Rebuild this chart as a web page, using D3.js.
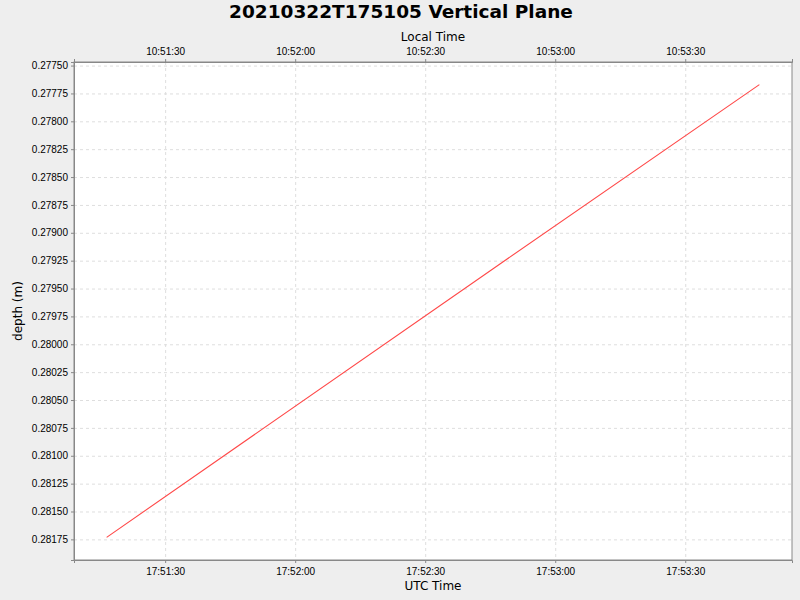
<!DOCTYPE html>
<html>
<head>
<meta charset="utf-8">
<script src="https://cdn.jsdelivr.net/npm/d3@7"></script>
<style>
  body { margin: 0; background: #eeeeee; }
  svg { display: block; font-family: "DejaVu Sans", sans-serif; }
  .axis path, .axis line { stroke: #888888; }
  .axis text { fill: #000; font-size: 10px; }
  .grid line { stroke: #dedede; stroke-dasharray: 3,3; }
  .grid path { display: none; }
</style>
</head>
<body>
<script>
// samples (UTC time, depth in m)
var utcTimes = ["2021-03-22T17:51:16.5Z", "2021-03-22T17:52:46Z", "2021-03-22T17:53:47.1Z"];
var depths = [0.281732, 0.279313, 0.277671];
var depthTicks = [0.27750, 0.27775, 0.27800, 0.27825, 0.27850, 0.27875, 0.27900, 0.27925, 0.27950,
                  0.27975, 0.28000, 0.28025, 0.28050, 0.28075, 0.28100, 0.28125, 0.28150, 0.28175];
var localOffsetHours = -7;

var margin = {top: 62, right: 8, bottom: 40, left: 74},
    width = 800 - margin.left - margin.right,
    height = 600 - margin.top - margin.bottom;

var data = utcTimes.map(function(t, i) {
  return {t: new Date(t), depth: depths[i]};
});

var svg = d3.select("body").append("svg")
  .attr("width", 800)
  .attr("height", 600);

// title
svg.append("text")
  .attr("x", 401)
  .attr("y", 18)
  .attr("text-anchor", "middle")
  .style("font-size", "18.5px")
  .style("font-weight", "bold")
  .text("20210322T175105 Vertical Plane");

var g = svg.append("g")
  .attr("transform", "translate(" + margin.left + "," + margin.top + ")");

// 5% margin on each side like the original plot
var tExt = d3.extent(data, function(d) { return d.t; });
var tPad = (tExt[1] - tExt[0]) * 0.05;
var x = d3.scaleUtc()
  .domain([new Date(+tExt[0] - tPad), new Date(+tExt[1] + tPad)])
  .range([0, width]);

var xLocal = x.copy().domain(x.domain().map(function(d) {
  return new Date(+d + localOffsetHours * 3600 * 1000);
}));

var dExt = d3.extent(data, function(d) { return d.depth; });
var dPad = (dExt[1] - dExt[0]) * 0.05;
var y = d3.scaleLinear()
  .domain([dExt[0] - dPad, dExt[1] + dPad])
  .range([0, height]);

var fmt = d3.utcFormat("%H:%M:%S");

g.append("rect")
  .attr("width", width)
  .attr("height", height)
  .attr("fill", "#ffffff");

// grid
g.append("g")
  .attr("class", "grid")
  .call(d3.axisBottom(x).ticks(d3.utcSecond.every(30)).tickSize(height).tickFormat(""));
g.append("g")
  .attr("class", "grid")
  .call(d3.axisLeft(y).tickValues(depthTicks).tickSize(-width).tickFormat(""));

// line
var line = d3.line()
  .x(function(d) { return x(d.t); })
  .y(function(d) { return y(d.depth); });

g.append("path")
  .datum(data)
  .attr("fill", "none")
  .attr("stroke", "#ff4848")
  .attr("stroke-width", 1.1)
  .attr("d", line);

// border
g.append("rect")
  .attr("width", width)
  .attr("height", height)
  .attr("fill", "none")
  .attr("stroke", "#888888");

// axes
g.append("g")
  .attr("class", "axis")
  .attr("transform", "translate(0," + height + ")")
  .call(d3.axisBottom(x).ticks(d3.utcSecond.every(30)).tickFormat(fmt).tickSizeOuter(0).tickSize(3).tickPadding(5));

g.append("g")
  .attr("class", "axis")
  .call(d3.axisTop(xLocal).ticks(d3.utcSecond.every(30)).tickFormat(fmt).tickSizeOuter(0).tickSize(3).tickPadding(4));

g.append("g")
  .attr("class", "axis")
  .call(d3.axisLeft(y).tickValues(depthTicks).tickFormat(d3.format(".5f")).tickSizeOuter(0).tickSize(3).tickPadding(3));

// axis titles
svg.append("text")
  .attr("x", margin.left + width / 2)
  .attr("y", 590)
  .attr("text-anchor", "middle")
  .style("font-size", "12px")
  .text("UTC Time");

svg.append("text")
  .attr("x", margin.left + width / 2)
  .attr("y", 41)
  .attr("text-anchor", "middle")
  .style("font-size", "12px")
  .text("Local Time");

svg.append("text")
  .attr("transform", "translate(22," + (margin.top + height / 2) + ") rotate(-90)")
  .attr("text-anchor", "middle")
  .style("font-size", "12px")
  .text("depth (m)");
</script>
</body>
</html>
